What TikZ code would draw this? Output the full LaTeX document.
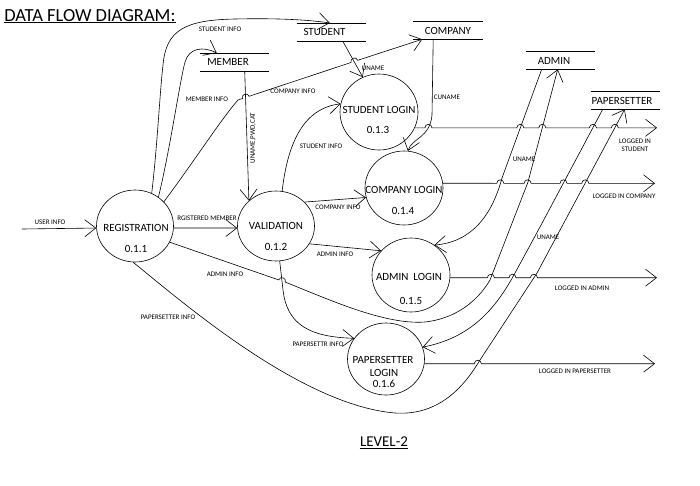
\documentclass[tikz,border=0pt]{standalone}
\usepackage{fontspec}
\setmainfont{Carlito}
\usetikzlibrary{arrows.meta,shapes.geometric}
\begin{document}
\begin{tikzpicture}[x=1pt,y=-1pt, line width=0.6pt,
  >={Straight Barb[length=11pt,width=17pt]},
  proc/.style={ellipse, draw, minimum width=77pt, minimum height=72pt, inner sep=0pt},
  ptext/.style={font=\fontsize{11}{12}\selectfont, inner sep=0pt},
  store/.style={minimum width=69pt, minimum height=17.5pt, inner sep=0pt, font=\fontsize{11}{12}\selectfont},
  lbl/.style={font=\fontsize{7}{8}\selectfont, inner sep=0pt, align=center},
  hop/.style={}]
\fill[white] (0,0) rectangle (700,485);
\useasboundingbox (0,0) rectangle (700,485);

% title
\node[anchor=base west, inner sep=0pt, font=\fontsize{18.5}{20}\selectfont] (title) at (4,21) {DATA FLOW DIAGRAM:};
\draw[line width=1.1pt] ([yshift=-1.8pt]title.base west) -- ([yshift=-1.8pt]title.base east);
\node[anchor=base, inner sep=0pt, font=\fontsize{15}{16}\selectfont] (lvl) at (384,446) {LEVEL-2};
\draw[line width=0.9pt] ([yshift=-2pt]lvl.base west) -- ([yshift=-2pt]lvl.base east);

% processes
\node[proc] (reg) at (135,226) {};
\node[proc, minimum height=70pt] (val) at (276,226) {};
\node[proc, minimum width=78pt, minimum height=76pt] (stl) at (379,112) {};
\node[proc, minimum width=78pt, minimum height=74pt] (col) at (404,188) {};
\node[proc, minimum width=78pt, minimum height=74pt] (al) at (411,275) {};
\node[proc] (ps) at (386,359) {};

\node[ptext] (rega) at (136,228) {REGISTRATION};
\node[ptext] (regb) at (136,249) {0.1.1};
\node[ptext] (vala) at (276,226) {VALIDATION};
\node[ptext] (valb) at (276,247) {0.1.2};
\node[ptext] (stla) at (379,110) {STUDENT LOGIN};
\node[ptext] (stlb) at (378,130) {0.1.3};
\node[ptext] (cola) at (404,190) {COMPANY LOGIN};
\node[ptext] (colb) at (403,211) {0.1.4};
\node[ptext] (ala) at (409,277) {ADMIN\ \ LOGIN};
\node[ptext] (alb) at (411,301) {0.1.5};
\node[ptext] (psa) at (383,360) {PAPERSETTER};
\node[ptext] (psb) at (384,373) {LOGIN};
\node[ptext] (psc) at (384,384) {0.1.6};

% data stores
\node[store] (stu) at (331.5,32) {\hspace*{-14pt}STUDENT};
\node[store] (mem) at (234.5,62) {\hspace*{-13pt}MEMBER};
\node[store, minimum height=17pt] (com) at (448,30.5) {COMPANY};
\node[store, minimum height=17pt] (adm) at (560.5,60.5) {\hspace*{-13pt}ADMIN};
\node[store, minimum height=17pt] (pap) at (625.5,100.5) {\hspace*{-7pt}PAPERSETTER};
\foreach \s in {stu,mem,com,adm,pap}
  \draw (\s.north west) -- (\s.north east) (\s.south west) -- (\s.south east);

% free ends
\coordinate (uin) at (22,229);
\coordinate (outS) at (657,127.8);
\coordinate (outC) at (655,183.3);
\coordinate (outA) at (657,277.7);
\coordinate (outP) at (655,363.7);

% flows
\draw[->] (uin) -- (reg.183);
\draw[->] (reg.357) -- (val.183);
\draw[->] (reg.63) .. controls (157,150) and (160,90) .. (163,65)
   .. controls (166,30) and (185,20) .. (235,19)
   .. controls (280,18) and (310,20) .. ([xshift=33pt]stu.north west);
\draw[->] (reg.51) .. controls (170,150) and (180,80) .. (185,62)
   .. controls (189,48) and (203,46) .. ([xshift=17pt]mem.north west);
\draw[->] (reg.40) .. controls (195,160) and (222,118) .. (238,100) -- (242.5,98.5)
   .. controls (241.1,94.2) and (247.7,92.0) .. (249.1,96.3) -- (351.0,62.5)
   .. controls (349.6,58.2) and (356.3,56.0) .. (357.7,60.3) -- ([xshift=9pt]com.south west);
\draw[->] ([xshift=45pt]mem.south west) -- (val.137);
\draw[->] (val.80) .. controls (288,140) and (305,108) .. (stl.168);
\draw[->] ([xshift=46pt]stu.south west) -- (stl.115);
\draw[->] ([xshift=20pt]com.south west) -- (432,115) .. controls (430,138) and (412,138) .. (col.84);
\draw[->] (val.40) -- (col.194);
\draw[->] (val.332) -- (al.141);
\draw[->] (val.276) -- (283,290) .. controls (287,325) and (310,337) .. (ps.147);
\draw[->] (reg.335) -- (278.7,279.9) .. controls (280.2,275.6) and (286.8,277.9) .. (285.3,282.1)
   .. controls (330,300) and (385,325) .. (425,322)
   .. controls (460,318) and (480,297) .. (490,280) -- (528,182) -- ([xshift=32pt]adm.south west);
\draw[->] ([xshift=16pt]adm.south west) -- (502,178) .. controls (492,215) and (472,242) .. (al.52);
\draw[->] ([xshift=12pt]pap.south west) -- (540,227) -- (515,273) .. controls (495,310) and (470,338) .. (ps.18);
\draw[->] (reg.267) .. controls (180,300) and (300,405) .. (395,413)
   .. controls (440,416) and (465,385) .. (480,360) -- (537,273) -- ([xshift=34pt]pap.south west);

% outputs with hops over crossing lines
\draw[->] (stl.336) -- (424.9,127.8) arc[start angle=180,end angle=0,radius=3.5pt]
   -- (516.8,127.8) arc[start angle=180,end angle=0,radius=3.5pt]
   -- (538.8,127.8) arc[start angle=180,end angle=0,radius=3.5pt]
   -- (589.4,127.8) arc[start angle=180,end angle=0,radius=3.5pt]
   -- (611.3,127.8) arc[start angle=180,end angle=0,radius=3.5pt]
   -- (outS);
\draw[->] (col.7) -- (496.8,183.3) arc[start angle=180,end angle=0,radius=3.5pt]
   -- (524.1,183.3) arc[start angle=180,end angle=0,radius=3.5pt]
   -- (560.0,183.3) arc[start angle=180,end angle=0,radius=3.5pt]
   -- (581.8,183.3) arc[start angle=180,end angle=0,radius=3.5pt]
   -- (outC);
\draw[->] (al.356) -- (487.4,277.7) arc[start angle=180,end angle=0,radius=3.5pt]
   -- (509.0,277.7) arc[start angle=180,end angle=0,radius=3.5pt]
   -- (530.4,277.7) arc[start angle=180,end angle=0,radius=3.5pt]
   -- (outA);
\draw[->] (ps.353) -- (474.3,363.7) arc[start angle=180,end angle=0,radius=3.5pt]
   -- (outP);

% labels
\node[lbl] (l1) at (50,222) {USER INFO};
\node[lbl] (l2) at (220,29) {STUDENT INFO};
\node[lbl] (l3) at (207,99) {MEMBER INFO};
\node[lbl] (l4) at (293,91) {COMPANY INFO};
\node[lbl, rotate=90] (l5) at (253,138) {UNAME,PWD,CAT};
\node[lbl] (l6) at (321,146) {STUDENT INFO};
\node[lbl] (l7) at (373,68) {UNAME};
\node[lbl] (l8) at (447,97) {CUNAME};
\node[lbl] (l9) at (207,218) {RGISTERED MEMBER};
\node[lbl] (l10) at (338,207) {COMPANY INFO};
\node[lbl] (l11) at (335,254) {ADMIN INFO};
\node[lbl] (l12) at (225,274) {ADMIN INFO};
\node[lbl] (l13) at (168,317) {PAPERSETTER INFO};
\node[lbl] (l14) at (318,344) {PAPERSETTR INFO};
\node[lbl] (l15) at (524,159) {UNAME};
\node[lbl] (l16) at (548,237) {UNAME};
\node[lbl] (l17) at (635,145) {LOGGED IN\\STUDENT};
\node[lbl] (l18) at (624,196) {LOGGED IN COMPANY};
\node[lbl] (l19) at (582,288) {LOGGED IN ADMIN};
\node[lbl] (l20) at (575,371) {LOGGED IN PAPERSETTER};
\end{tikzpicture}
\end{document}
